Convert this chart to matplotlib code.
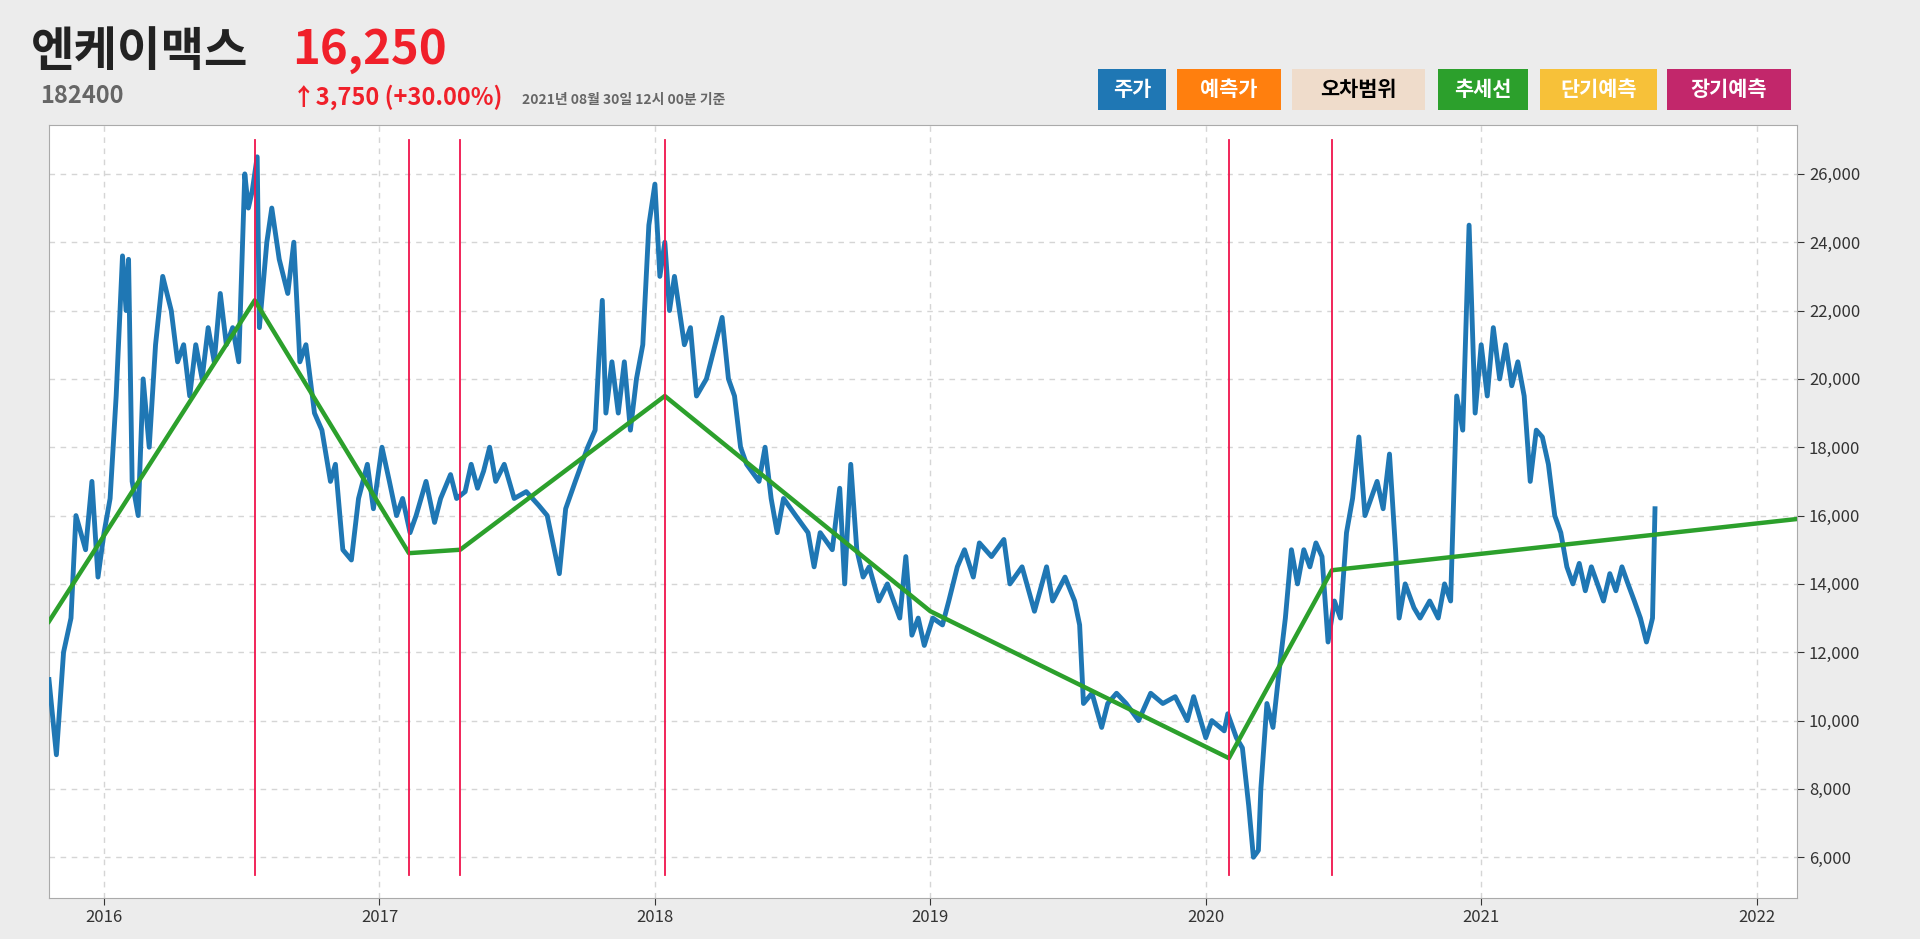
import matplotlib.pyplot as plt
from matplotlib.ticker import FuncFormatter

plt.rcParams["font.family"] = ["Noto Sans CJK KR", "Noto Sans CJK JP", "Noto Sans CJK SC", "DejaVu Sans"]

# price series (decimal year, price)
years = [2015.800, 2015.827, 2015.853, 2015.880, 2015.898, 2015.933, 2015.956, 2015.978,
         2016.000, 2016.022, 2016.044, 2016.067, 2016.080, 2016.089, 2016.102, 2016.124,
         2016.142, 2016.164, 2016.187, 2016.213, 2016.244, 2016.267, 2016.289, 2016.311,
         2016.333, 2016.356, 2016.378, 2016.400, 2016.422, 2016.444, 2016.467, 2016.489,
         2016.511, 2016.524, 2016.538, 2016.556, 2016.564, 2016.591, 2016.609, 2016.636,
         2016.667, 2016.689, 2016.711, 2016.733, 2016.764, 2016.791, 2016.822, 2016.840,
         2016.867, 2016.898, 2016.924, 2016.956, 2016.978, 2017.009, 2017.036, 2017.062,
         2017.084, 2017.111, 2017.133, 2017.169, 2017.200, 2017.222, 2017.258, 2017.280,
         2017.311, 2017.333, 2017.356, 2017.378, 2017.400, 2017.422, 2017.453, 2017.489,
         2017.533, 2017.578, 2017.609, 2017.653, 2017.676, 2017.711, 2017.756, 2017.783,
         2017.796, 2017.809, 2017.822, 2017.844, 2017.867, 2017.889, 2017.911, 2017.933,
         2017.956, 2017.978, 2018.000, 2018.018, 2018.036, 2018.053, 2018.071, 2018.107,
         2018.129, 2018.151, 2018.187,
         2018.244, 2018.267, 2018.289, 2018.311, 2018.333, 2018.378, 2018.400, 2018.422,
         2018.444, 2018.467, 2018.511, 2018.556, 2018.578, 2018.600, 2018.644, 2018.671,
         2018.689, 2018.711, 2018.733, 2018.756, 2018.778, 2018.813, 2018.844, 2018.889,
         2018.911, 2018.933, 2018.956, 2018.978, 2019.009, 2019.044, 2019.067, 2019.098,
         2019.124, 2019.156, 2019.178, 2019.222, 2019.267, 2019.289, 2019.333, 2019.378,
         2019.422, 2019.444, 2019.489, 2019.524, 2019.542, 2019.556, 2019.587, 2019.622,
         2019.644, 2019.676, 2019.711, 2019.756, 2019.800, 2019.844, 2019.889, 2019.933,
         2019.956, 2020.000, 2020.022, 2020.067, 2020.080, 2020.111, 2020.133, 2020.156,
         2020.173, 2020.191, 2020.200, 2020.222, 2020.244, 2020.267, 2020.289, 2020.311,
         2020.333, 2020.356, 2020.378, 2020.400, 2020.422, 2020.444, 2020.467, 2020.489,
         2020.511, 2020.533, 2020.556, 2020.578, 2020.600, 2020.622, 2020.644, 2020.667,
         2020.689, 2020.702, 2020.724, 2020.756, 2020.778, 2020.813, 2020.844, 2020.867,
         2020.889, 2020.911, 2020.933, 2020.956, 2020.978, 2021.000, 2021.022, 2021.044,
         2021.067, 2021.089, 2021.111, 2021.133, 2021.156, 2021.178, 2021.200, 2021.222,
         2021.244, 2021.267, 2021.289, 2021.311, 2021.333, 2021.356, 2021.378, 2021.400,
         2021.422, 2021.444, 2021.467, 2021.489, 2021.511, 2021.533, 2021.556, 2021.578,
         2021.600, 2021.613, 2021.622, 2021.631]
prices = [11200, 9000, 12000, 13000, 16000, 15000, 17000, 14200,
          15500, 16500, 19500, 23600, 22000, 23500, 17000, 16000,
          20000, 18000, 21000, 23000, 22000, 20500, 21000, 19500,
          21000, 20000, 21500, 20500, 22500, 21000, 21500, 20500,
          26000, 25000, 25500, 26500, 21500, 24000, 25000, 23500,
          22500, 24000, 20500, 21000, 19000, 18500, 17000, 17500,
          15000, 14700, 16500, 17500, 16200, 18000, 17000, 16000,
          16500, 15500, 16000, 17000, 15800, 16500, 17200, 16500,
          16700, 17500, 16800, 17300, 18000, 17000, 17500, 16500,
          16700, 16300, 16000, 14300, 16200, 17000, 18000, 18500,
          20500, 22300, 19000, 20500, 19000, 20500, 18500, 20000,
          21000, 24500, 25700, 23000, 24000, 22000, 23000, 21000,
          21500, 19500, 20000,
          21800, 20000, 19500, 18000, 17500, 17000, 18000, 16500,
          15500, 16500, 16000, 15500, 14500, 15500, 15000, 16800,
          14000, 17500, 15000, 14200, 14500, 13500, 14000, 13000,
          14800, 12500, 13000, 12200, 13000, 12800, 13500, 14500,
          15000, 14200, 15200, 14800, 15300, 14000, 14500, 13200,
          14500, 13500, 14200, 13500, 12800, 10500, 10800, 9800,
          10500, 10800, 10500, 10000, 10800, 10500, 10700, 10000,
          10700, 9500, 10000, 9700, 10200, 9500, 9200, 7500,
          6000, 6200, 8000, 10500, 9800, 11500, 13000, 15000,
          14000, 15000, 14500, 15200, 14800, 12300, 13500, 13000,
          15500, 16500, 18300, 16000, 16500, 17000, 16200, 17800,
          15000, 13000, 14000, 13300, 13000, 13500, 13000, 14000,
          13500, 19500, 18500, 24500, 19000, 21000, 19500, 21500,
          20000, 21000, 19800, 20500, 19500, 17000, 18500, 18300,
          17500, 16000, 15500, 14500, 14000, 14600, 13800, 14500,
          14000, 13500, 14300, 13800, 14500, 14000, 13500, 13000,
          12300, 12700, 13000, 16200]

# trend line
trend_years = [2015.800, 2016.547, 2017.107, 2017.293, 2018.036, 2019.000, 2020.084, 2020.458, 2022.147]
trend_values = [12900, 22300, 14900, 15000, 19500, 13200, 8900, 14400, 15900]

# red change-point markers
event_years = [2016.547, 2017.107, 2017.293, 2018.036, 2020.084, 2020.458]

legend_labels = ["주가", "예측가", "오차범위", "추세선", "단기예측", "장기예측"]
legend_colors = ["#1f77b4", "#ff7f0e", "#efdccb", "#2ca02c", "#f7c139", "#c2276b"]
legend_text = ["white", "white", "black", "white", "white", "white"]

fig = plt.figure(figsize=(19.2, 9.39), dpi=100)
fig.patch.set_facecolor("#ececec")
ax = fig.add_axes([0.0255, 0.044, 0.9105, 0.823])

ax.plot(years, prices, color="#1f77b4", lw=3.5, zorder=3)
ax.plot(trend_years, trend_values, color="#2ca02c", lw=3.2, zorder=4)
for ey in event_years:
    ax.axvline(ey, ymin=0.03, ymax=0.98, color="#f0144c", lw=1.3, zorder=5)

ax.set_xlim(2015.8, 2022.147)
ax.set_ylim(4817, 27434)
ax.set_xticks(range(2016, 2023))
ax.set_yticks(range(6000, 26001, 2000))
ax.yaxis.tick_right()
ax.yaxis.set_major_formatter(FuncFormatter(lambda v, p: f"{int(v):,}"))
ax.tick_params(labelsize=12, colors="#333333", length=5)
ax.grid(True, ls=(0, (4, 4)), color="#d5d5d5", lw=1)
for s in ax.spines.values():
    s.set_color("#aaaaaa")

fig.text(0.016, 0.945, "엔케이맥스", fontsize=34, fontweight="bold", color="#222222", va="center")
fig.text(0.152, 0.947, "16,250", fontsize=34, fontweight="bold", color="#f0202a", va="center")
fig.text(0.021, 0.898, "182400", fontsize=17, fontweight="bold", color="#666666", va="center")
fig.text(0.152, 0.896, "↑3,750 (+30.00%)", fontsize=17, fontweight="bold", color="#f0202a", va="center")
fig.text(0.272, 0.894, "2021년 08월 30일 12시 00분 기준", fontsize=10, fontweight="bold", color="#666666", va="center")

box_x = [0.572, 0.613, 0.673, 0.749, 0.802, 0.868]
box_w = [0.0355, 0.054, 0.069, 0.047, 0.061, 0.065]
for lbl, col, tc, bx, bw in zip(legend_labels, legend_colors, legend_text, box_x, box_w):
    fig.patches.append(plt.Rectangle((bx, 0.883), bw, 0.044, transform=fig.transFigure,
                                     facecolor=col, edgecolor="none"))
    fig.text(bx + bw / 2, 0.905, lbl, fontsize=15, fontweight="bold", color=tc,
             ha="center", va="center")

fig.savefig("out.png", dpi=100, facecolor=fig.get_facecolor())
